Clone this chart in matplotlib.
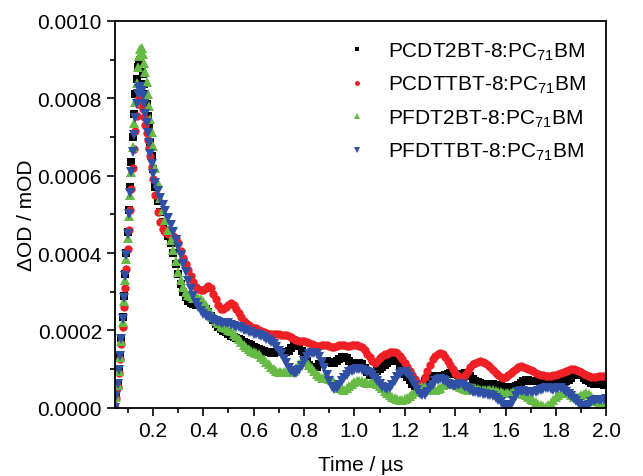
import numpy as np
import matplotlib.pyplot as plt
from matplotlib.ticker import MultipleLocator, FormatStrFormatter

plt.rcParams['font.family'] = ['Liberation Sans', 'DejaVu Sans']
plt.rcParams['mathtext.default'] = 'regular'

# time grid (us): 5 ns steps over the rise/peak, 10 ns steps afterwards
t_fine = np.round(np.arange(0.050, 0.2001, 0.005), 3)
t_coarse = np.round(np.arange(0.21, 2.0001, 0.01), 2)
time_us = np.concatenate([t_fine, t_coarse])

labels = ["PCDT2BT-8:PC$_{71}$BM", "PCDTTBT-8:PC$_{71}$BM",
          "PFDT2BT-8:PC$_{71}$BM", "PFDTTBT-8:PC$_{71}$BM"]

# values in units of 1e-4 OD
pcdt2bt = [
    0.0, 0.3, 0.65, 1.0, 1.35, 1.8, 2.35, 2.9, 3.45, 4.0,
    4.55, 5.1, 5.7, 6.35, 7.0, 7.6, 8.1, 8.5, 8.8, 8.95,
    9.0, 8.82, 8.62, 8.38, 8.12, 7.85, 7.55, 7.22, 6.88, 6.52, 6.18,
    5.7, 5.35, 5.05, 4.8, 4.6, 4.45, 4.25, 4.0, 3.72, 3.45,
    3.2, 3.0, 2.86, 2.76, 2.7, 2.68, 2.66, 2.65, 2.63, 2.6,
    2.55, 2.47,
    2.37, 2.27, 2.17, 2.09, 2.03, 1.98, 1.95, 1.9, 1.86, 1.83,
    1.8, 1.78, 1.75, 1.71, 1.67, 1.65, 1.62, 1.58, 1.55, 1.52,
    1.5, 1.48, 1.45, 1.43, 1.42, 1.42, 1.43, 1.44, 1.43, 1.41,
    1.43, 1.48, 1.55, 1.62, 1.65, 1.6, 1.48, 1.35, 1.22, 1.1,
    1.02, 1.0, 1.05, 1.12, 1.18, 1.2, 1.2, 1.18, 1.15, 1.15,
    1.2, 1.27, 1.3, 1.3, 1.28, 1.22, 1.15, 1.1, 1.12, 1.15,
    1.12, 1.02, 0.92, 0.86, 0.86, 0.9, 0.95, 1.0, 1.05, 1.1,
    1.15, 1.2, 1.25, 1.25, 1.2, 1.1, 0.98, 0.88, 0.8, 0.72,
    0.62, 0.56, 0.54, 0.56, 0.62, 0.7, 0.76, 0.8, 0.82, 0.82,
    0.8, 0.8, 0.82, 0.85, 0.88, 0.9, 0.9, 0.88, 0.85, 0.85,
    0.88, 0.9, 0.88, 0.82, 0.75, 0.7, 0.66, 0.64, 0.62, 0.6,
    0.6, 0.62, 0.62, 0.6, 0.58, 0.56, 0.55, 0.55, 0.55, 0.54,
    0.54, 0.56, 0.6, 0.65, 0.7, 0.72, 0.72, 0.7, 0.68, 0.68,
    0.7, 0.7, 0.68, 0.66, 0.65, 0.66, 0.67, 0.68, 0.7, 0.72,
    0.72, 0.7, 0.72, 0.78, 0.85, 0.9, 0.9, 0.85, 0.78, 0.72,
    0.68, 0.65, 0.62, 0.62, 0.63, 0.62, 0.6, 0.6,
]

pcdttbt = [
    0.0, 0.25, 0.55, 0.9, 1.25, 1.65, 2.1, 2.6, 3.1, 3.6,
    4.1, 4.6, 5.1, 5.65, 6.2, 6.7, 7.15, 7.55, 7.85, 8.0,
    7.98, 7.88, 7.72, 7.52, 7.3, 7.1, 6.92, 6.72, 6.5, 6.22, 5.92,
    5.5, 5.05, 4.8, 4.62, 4.55, 4.5, 4.47, 4.44, 4.4, 4.25,
    4.05, 3.88, 3.72, 3.56, 3.4, 3.25, 3.12, 3.06, 3.05, 3.05,
    3.1, 3.15,
    3.1, 2.95, 2.8, 2.65, 2.55, 2.55, 2.6, 2.65, 2.7, 2.65,
    2.55, 2.45, 2.35, 2.25, 2.2, 2.15, 2.1, 2.05, 2.05, 2.0,
    1.98, 1.95, 1.93, 1.92, 1.9, 1.9, 1.9, 1.9, 1.88, 1.88,
    1.87, 1.85, 1.82, 1.78, 1.75, 1.72, 1.72, 1.72, 1.7, 1.68,
    1.65, 1.62, 1.6, 1.6, 1.62, 1.63, 1.63, 1.6, 1.58, 1.58,
    1.6, 1.62, 1.63, 1.62, 1.6, 1.6, 1.62, 1.63, 1.62, 1.6,
    1.57, 1.5, 1.4, 1.3, 1.22, 1.17, 1.2, 1.28, 1.35, 1.38,
    1.4, 1.43, 1.45, 1.45, 1.42, 1.35, 1.25, 1.15, 1.05, 0.95,
    0.85, 0.75, 0.65, 0.6, 0.65, 0.8, 0.95, 1.1, 1.25, 1.35,
    1.4, 1.42, 1.38, 1.3, 1.2, 1.1, 1.0, 0.9, 0.82, 0.77,
    0.78, 0.85, 0.95, 1.05, 1.12, 1.15, 1.18, 1.2, 1.18, 1.15,
    1.1, 1.05, 0.98, 0.9, 0.85, 0.8, 0.78, 0.8, 0.85, 0.9,
    0.95, 1.0, 1.05, 1.08, 1.05, 1.02, 1.0, 0.98, 0.95, 0.9,
    0.87, 0.85, 0.84, 0.83, 0.83, 0.83, 0.84, 0.86, 0.88, 0.9,
    0.92, 0.95, 0.97, 0.99, 1.0, 0.98, 0.95, 0.92, 0.88, 0.85,
    0.82, 0.8, 0.79, 0.8, 0.82, 0.83, 0.82, 0.82,
]

pfdt2bt = [
    0.0, 0.28, 0.6, 0.95, 1.3, 1.72, 2.22, 2.75, 3.3, 3.85,
    4.4, 4.95, 5.5, 6.1, 6.75, 7.35, 7.9, 8.4, 8.8, 9.1,
    9.27, 9.3, 9.15, 8.92, 8.68, 8.42, 8.12, 7.8, 7.47, 7.12, 6.78,
    6.2, 5.8, 5.42, 5.12, 4.85, 4.6, 4.35, 4.08, 3.8, 3.52,
    3.3, 3.12, 3.0, 2.92, 2.88, 2.85, 2.85, 2.84, 2.82, 2.75,
    2.65, 2.55,
    2.45, 2.35, 2.25, 2.18, 2.12, 2.08, 2.05, 2.02, 1.98, 1.92,
    1.85, 1.78, 1.7, 1.62, 1.56, 1.52, 1.48, 1.45, 1.42, 1.38,
    1.32, 1.25, 1.18, 1.12, 1.06, 1.0, 0.95, 0.93, 0.92, 0.92,
    0.92, 0.92, 0.93, 0.95, 1.02, 1.12, 1.2, 1.22, 1.18, 1.1,
    1.02, 0.95, 0.88, 0.82, 0.78, 0.76, 0.76, 0.75, 0.72, 0.66,
    0.58, 0.52, 0.48, 0.47, 0.5, 0.56, 0.62, 0.67, 0.7, 0.7,
    0.68, 0.66, 0.65, 0.65, 0.66, 0.65, 0.62, 0.56, 0.5, 0.44,
    0.38, 0.32, 0.28, 0.25, 0.22, 0.21, 0.21, 0.22, 0.25, 0.3,
    0.36, 0.42, 0.48, 0.52, 0.55, 0.55, 0.52, 0.48, 0.45, 0.45,
    0.48, 0.52, 0.58, 0.62, 0.65, 0.66, 0.65, 0.62, 0.58, 0.54,
    0.5, 0.48, 0.47, 0.48, 0.5, 0.5, 0.48, 0.46, 0.45, 0.45,
    0.46, 0.47, 0.46, 0.44, 0.42, 0.4, 0.38, 0.37, 0.37, 0.38,
    0.4, 0.42, 0.41, 0.38, 0.35, 0.32, 0.28, 0.24, 0.2, 0.16,
    0.11, 0.07, 0.04, 0.03, 0.06, 0.13, 0.2, 0.28, 0.34, 0.38,
    0.4, 0.4, 0.37, 0.33, 0.29, 0.27, 0.28, 0.32, 0.36, 0.37,
    0.35, 0.3, 0.24, 0.18, 0.12, 0.07, 0.04, 0.03,
]

pfdttbt = [
    0.0, 0.3, 0.62, 0.98, 1.35, 1.78, 2.3, 2.85, 3.4, 3.95,
    4.5, 5.0, 5.55, 6.1, 6.6, 7.05, 7.5, 7.85, 8.1, 8.25,
    8.3, 8.2, 8.05, 7.85, 7.6, 7.35, 7.1, 6.85, 6.55, 6.3, 6.05,
    5.8, 5.6, 5.42, 5.25, 5.08, 4.9, 4.72, 4.55, 4.35, 4.15,
    3.95, 3.72, 3.5, 3.28, 3.06, 2.88, 2.72, 2.6, 2.5, 2.43,
    2.38, 2.34,
    2.3, 2.27, 2.24, 2.22, 2.2, 2.2, 2.19, 2.18, 2.15, 2.12,
    2.1, 2.08, 2.05, 2.02, 2.0, 1.97, 1.95, 1.92, 1.9, 1.88,
    1.85, 1.82, 1.78, 1.74, 1.7, 1.65, 1.58, 1.48, 1.38, 1.27,
    1.15, 1.03, 0.94, 0.89, 0.9, 0.98, 1.08, 1.2, 1.3, 1.38,
    1.42, 1.42, 1.38, 1.3, 1.18, 1.02, 0.85, 0.68, 0.55, 0.48,
    0.5, 0.58, 0.68, 0.78, 0.86, 0.92, 0.96, 0.98, 1.0, 1.0,
    0.98, 0.95, 0.92, 0.9, 0.85, 0.78, 0.7, 0.62, 0.55, 0.5,
    0.48, 0.52, 0.6, 0.7, 0.8, 0.88, 0.92, 0.92, 0.88, 0.8,
    0.7, 0.58, 0.45, 0.36, 0.32, 0.33, 0.4, 0.5, 0.6, 0.68,
    0.73, 0.75, 0.73, 0.68, 0.62, 0.58, 0.56, 0.57, 0.6, 0.62,
    0.6, 0.55, 0.5, 0.45, 0.42, 0.4, 0.38, 0.37, 0.36, 0.35,
    0.34, 0.32, 0.3, 0.26, 0.2, 0.14, 0.08, 0.04, 0.03, 0.08,
    0.18, 0.3, 0.4, 0.44, 0.44, 0.42, 0.4, 0.4, 0.41, 0.42,
    0.44, 0.46, 0.48, 0.5, 0.5, 0.48, 0.47, 0.48, 0.5, 0.5,
    0.46, 0.42, 0.36, 0.3, 0.24, 0.17, 0.1, 0.05, 0.02, 0.03,
    0.08, 0.14, 0.18, 0.2, 0.21, 0.21, 0.21, 0.22,
]

series = [pcdt2bt, pcdttbt, pfdt2bt, pfdttbt]
colors = ["#000000", "#ee2026", "#66bb44", "#3050a6"]
markers = ["s", "o", "^", "v"]
sizes = [5.5, 6.0, 6.8, 6.8]

fig = plt.figure(figsize=(6.43, 4.77), dpi=100)
ax = fig.add_axes([0.179, 0.143, 0.764, 0.811])

for vals, c, m, ms, lab in zip(series, colors, markers, sizes, labels):
    ax.plot(time_us, np.array(vals) * 1e-4, linestyle="none", marker=m,
            markersize=ms, color=c, markeredgewidth=0, label=lab)

ax.set_xlim(0.05, 2.0)
ax.set_ylim(0, 0.0010)
ax.xaxis.set_major_locator(MultipleLocator(0.2))
ax.xaxis.set_minor_locator(MultipleLocator(0.1))
ax.yaxis.set_major_locator(MultipleLocator(0.0002))
ax.yaxis.set_minor_locator(MultipleLocator(0.0001))
ax.xaxis.set_major_formatter(FormatStrFormatter('%.1f'))
ax.yaxis.set_major_formatter(FormatStrFormatter('%.4f'))
ax.tick_params(which='both', direction='out', labelsize=15, width=1.2)
ax.tick_params(which='major', length=6)
ax.tick_params(which='minor', length=3.5)
for sp in ax.spines.values():
    sp.set_linewidth(1.3)

ax.set_xlabel("Time / µs", fontsize=15, labelpad=11)
ax.set_ylabel("ΔOD / mOD", fontsize=15, labelpad=1)

leg = ax.legend(loc='upper right', frameon=False, fontsize=15, markerscale=0.6,
                handlelength=0.8, handletextpad=1.1, labelspacing=0.58,
                borderaxespad=0.55)

fig.savefig("out.png", dpi=100)
